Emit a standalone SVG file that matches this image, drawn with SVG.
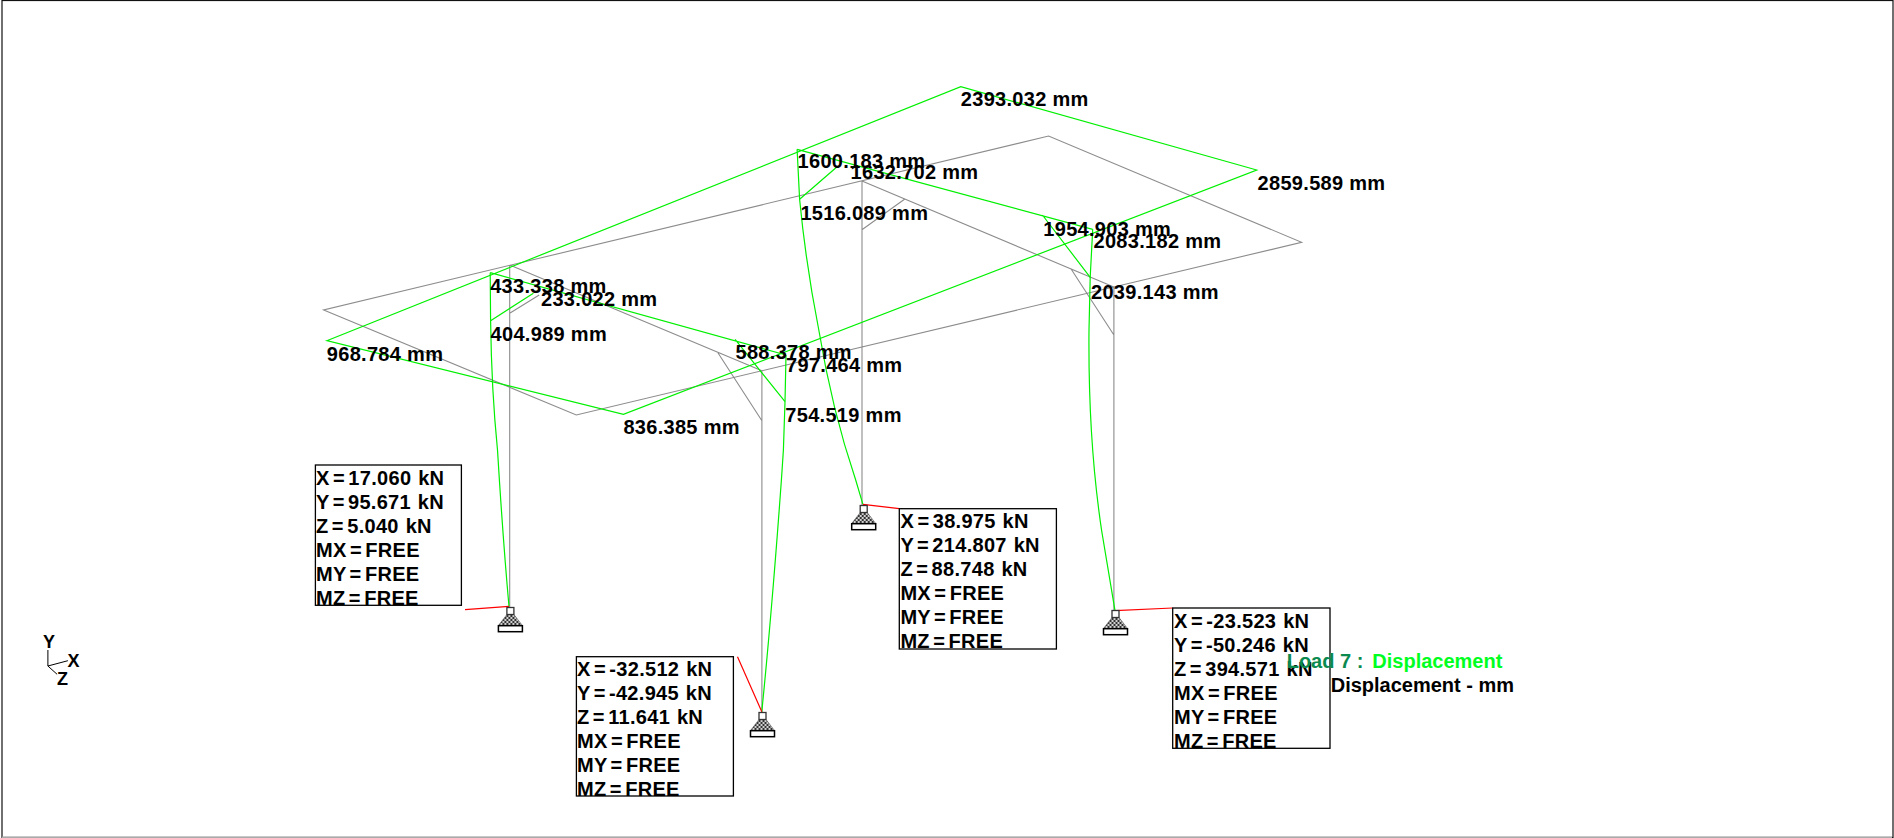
<svg xmlns="http://www.w3.org/2000/svg" width="1894" height="838" viewBox="0 0 1894 838">
<style>
text{font-family:"Liberation Sans",Arial,sans-serif;font-weight:bold;font-size:20px;fill:#000}
#displacement-labels text{letter-spacing:.3px}
.t text{word-spacing:-2.5px;letter-spacing:.3px}
#axes text{font-size:18px}
.g{fill:none;stroke:#8c8c8c;stroke-width:1.1}
.d{fill:none;stroke:#00f000;stroke-width:1.2}
.r{fill:none;stroke:#ff0000;stroke-width:1.2}
.b{fill:none;stroke:#000;stroke-width:1.3}
.a{fill:none;stroke:#000;stroke-width:1}
</style>
<defs>
<pattern id="dots" width="4" height="4" patternUnits="userSpaceOnUse">
<rect width="4" height="4" fill="#d0d0d0"/><rect width="2" height="2" fill="#333"/><rect x="2" y="2" width="2" height="2" fill="#333"/>
</pattern>
<g id="sup">
<path d="M-3.5 3.5L-12 14.5H12L3.5 3.5Z" fill="url(#dots)" stroke="#555" stroke-width="0.6"/>
<rect x="-3.5" y="-3.5" width="7" height="7" fill="#fff" stroke="#333" stroke-width="1.3"/>
<rect x="-12" y="14.7" width="24" height="6" fill="#fff" stroke="#000" stroke-width="1.5"/>
</g>
</defs>
<rect x="2" y="0.5" width="1891" height="837" fill="#fff" stroke="#111" stroke-width="1.2"/>
<path d="M2 837.3H1892" stroke="#aaa" stroke-width="1.4" fill="none"/>
<g id="connectors">
<path class="g" d="M323.7 310L576.3 415L1301.6 242.3L1048.6 136ZM509.7 265L761.9 370.8M862 181L1113.9 287M509.7 265V608M761.9 370.8V712M862 181V505M1113.9 287V611M509.7 313.3L539.2 295M717.9 352.7L761.9 420.7M861.6 230L904.5 199.3M1070.6 268.3L1113.9 335"/>
<path class="d" d="M326.8 340.7L960.8 86.7L1256.7 170L623.4 414.3ZM490.2 272.7L786 355M797.1 149.3L1092.7 229.3M490.6 320.7L533.4 293.3M735.1 339.3L785 401.7M799.6 199.3L837.1 166.7M1042.4 215L1090.2 277.3"/>
<path class="d" d="M490.2 272.7L490.6 320.7Q491.5 390 497.5 450Q503 540 509 606.5M786 355L785 401.7L783.4 450L781.4 480Q772 610 761.8 711.7M797.1 149.3L799.6 199.3Q806 265 818.8 330Q832 410 855.7 480L862.9 504.3M1092.7 229.3L1090.2 277.3L1089 330Q1088 440 1101.7 531L1115 610.7"/>
<path class="r" d="M465 609.7L509 606.3M737.5 656.7L761.8 711.7M862.9 504.3L899.3 508.7M1115 610.7L1172.7 608"/>
</g>
<g id="axes">
<path class="a" d="M47.9 666V650M47.9 666L67.9 660.7M47.9 666L57.1 674.3"/>
<text x="43" y="648.3">Y</text>
<text x="67.5" y="666.7">X</text>
<text x="57" y="685.3">Z</text>
</g>
<g id="displacement-labels">
<text x="490.2" y="293.3">433.338 mm</text>
<text x="541" y="306">233.022 mm</text>
<text x="490.6" y="340.7">404.989 mm</text>
<text x="326.8" y="360.7">968.784 mm</text>
<text x="735.5" y="359.3">588.378 mm</text>
<text x="786" y="372.3">797.464 mm</text>
<text x="785.3" y="421.7">754.519 mm</text>
<text x="623.4" y="434">836.385 mm</text>
<text x="960.8" y="105.7">2393.032 mm</text>
<text x="797.6" y="168.3">1600.183 mm</text>
<text x="850.6" y="178.7">1632.702 mm</text>
<text x="800.4" y="220">1516.089 mm</text>
<text x="1257.6" y="190">2859.589 mm</text>
<text x="1043.3" y="235.7">1954.903 mm</text>
<text x="1093.5" y="247.7">2083.182 mm</text>
<text x="1091" y="298.7">2039.143 mm</text>
</g>
<g id="support-1" class="t"><use href="#sup" x="510.4" y="611"/>
<text x="316" y="485">X = 17.060 <tspan dx="3.5">kN</tspan></text><text x="316" y="509">Y = 95.671 <tspan dx="3.5">kN</tspan></text><text x="316" y="533">Z = 5.040 <tspan dx="3.5">kN</tspan></text><text x="316" y="557">MX = FREE</text><text x="316" y="581">MY = FREE</text><text x="316" y="605">MZ = FREE</text>
<rect class="b" x="315.4" y="465" width="146" height="140.3"/></g>
<g id="support-2" class="t"><use href="#sup" x="762.5" y="716"/>
<text x="577" y="675.7">X = -32.512 <tspan dx="3.5">kN</tspan></text><text x="577" y="699.7">Y = -42.945 <tspan dx="3.5">kN</tspan></text><text x="577" y="723.7">Z = 11.641 <tspan dx="3.5">kN</tspan></text><text x="577" y="747.7">MX = FREE</text><text x="577" y="771.7">MY = FREE</text><text x="577" y="795.7">MZ = FREE</text>
<rect class="b" x="576.4" y="656.7" width="157" height="139.3"/></g>
<g id="support-3" class="t"><use href="#sup" x="863.7" y="509"/>
<text x="900.4" y="527.7">X = 38.975 <tspan dx="3.5">kN</tspan></text><text x="900.4" y="551.7">Y = 214.807 <tspan dx="3.5">kN</tspan></text><text x="900.4" y="575.7">Z = 88.748 <tspan dx="3.5">kN</tspan></text><text x="900.4" y="599.7">MX = FREE</text><text x="900.4" y="623.7">MY = FREE</text><text x="900.4" y="647.7">MZ = FREE</text>
<rect class="b" x="899.3" y="508.7" width="157.1" height="140.3"/></g>
<g id="support-4" class="t"><use href="#sup" x="1115.5" y="614"/>
<text x="1174" y="627.7">X = -23.523 <tspan dx="3.5">kN</tspan></text><text x="1174" y="651.7">Y = -50.246 <tspan dx="3.5">kN</tspan></text><text x="1174" y="675.7">Z = 394.571 <tspan dx="3.5">kN</tspan></text><text x="1174" y="699.7">MX = FREE</text><text x="1174" y="723.7">MY = FREE</text><text x="1174" y="747.7">MZ = FREE</text>
<rect class="b" x="1172.7" y="608" width="157.3" height="140.3"/></g>
<g id="legend">
<text x="1286.7" y="667.7" style="fill:#0b8a50">Load 7 :</text>
<text x="1372.3" y="667.7" style="fill:#00ff21">Displacement</text>
<text x="1330.7" y="691.7">Displacement - mm</text>
</g>
</svg>
